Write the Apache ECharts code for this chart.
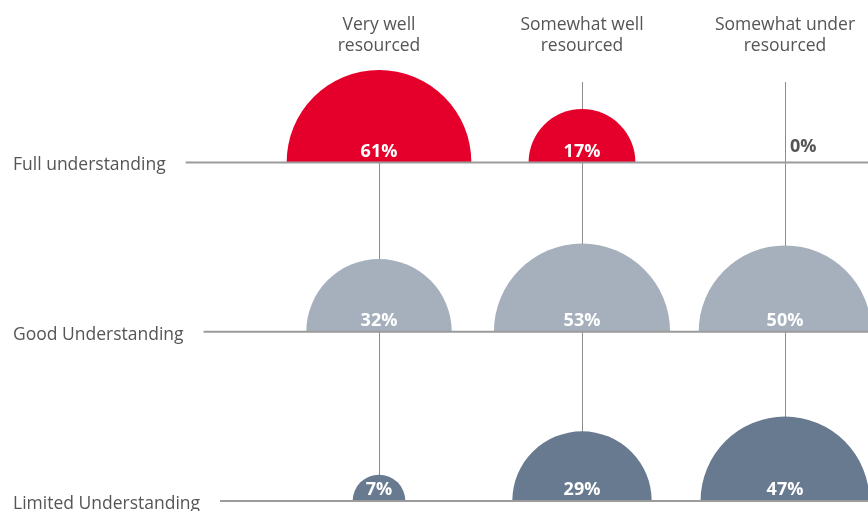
<!DOCTYPE html>
<html>
<head>
<meta charset="utf-8">
<script src="https://cdn.jsdelivr.net/npm/echarts@6/dist/echarts.min.js"></script>
<style>
html,body{margin:0;padding:0;background:#fff;}
#chart{width:868px;height:511px;}
</style>
</head>
<body>
<div id="chart"></div>
<script>
// ---- data ----
const columns = ['Very well\nresourced', 'Somewhat well\nresourced', 'Somewhat under\nresourced'];
const rows = ['Full understanding', 'Good Understanding', 'Limited Understanding'];
const fullValues = [61, 17, 0];
const goodValues = [32, 53, 50];
const limitedValues = [7, 29, 47];

// ---- styles ----
const FONT = '"Open Sans", "Noto Sans", sans-serif';
const rowColors = ['#E4002B', '#A5B0BC', '#687A8F'];
const textGray = '#555555';

function radiusFor(v) {
  if (v <= 0) return 0;
  return Math.max(0, 30.5 * Math.log(v) - 33);
}

const seriesValues = [fullValues, goodValues, limitedValues];
const bubbleData = [];
seriesValues.forEach(function (vals, r) {
  vals.forEach(function (v, c) { bubbleData.push([c, r, v]); });
});

const measureCtx = document.createElement('canvas').getContext('2d');
function textWidth(txt, font) { measureCtx.font = font; return measureCtx.measureText(txt).width; }

const chart = echarts.init(document.getElementById('chart'), null, { renderer: 'canvas' });
const option = {
  backgroundColor: '#ffffff',
  animation: false,
  grid: { left: 379, right: 83, top: 82, bottom: 10 },
  xAxis: {
    type: 'category',
    data: columns,
    position: 'top',
    boundaryGap: false,
    axisLine: { show: false },
    axisTick: { show: false },
    axisLabel: {
      interval: 0,
      margin: 25,
      color: textGray,
      fontFamily: FONT,
      fontSize: 17.5,
      lineHeight: 21,
      align: 'center'
    },
    splitLine: { show: true, lineStyle: { color: '#8c8c8c', width: 1 } }
  },
  yAxis: {
    type: 'value',
    inverse: true,
    min: -0.475,
    max: 2,
    show: false
  },
  series: [
    {
      type: 'custom',
      name: 'bubbles',
      clip: false,
      z: 3,
      data: bubbleData,
      renderItem: function (params, api) {
        const c = api.value(0), r = api.value(1), v = api.value(2);
        const p = api.coord([c, r]);
        const rad = radiusFor(v);
        const children = [];
        if (rad > 0) {
          children.push({
            type: 'sector',
            shape: { cx: p[0], cy: p[1], r0: 0, r: rad, startAngle: Math.PI, endAngle: Math.PI * 2 },
            style: { fill: rowColors[r] }
          });
          children.push({
            type: 'text',
            style: {
              text: v + '%', x: p[0], y: p[1] - 11,
              align: 'center', verticalAlign: 'middle',
              fill: '#ffffff', font: 'bold 18px ' + FONT
            }
          });
        } else {
          children.push({
            type: 'text',
            style: {
              text: v + '%', x: p[0] + 5, y: p[1] - 16,
              align: 'left', verticalAlign: 'middle',
              fill: textGray, font: 'bold 18px ' + FONT
            }
          });
        }
        return { type: 'group', children: children };
      }
    },
    {
      type: 'custom',
      name: 'rows',
      clip: false,
      z: 4,
      data: rows.map(function (_, i) { return [0, i]; }),
      renderItem: function (params, api) {
        const r = api.value(1);
        const y = api.coord([0, r])[1];
        const font = '17.5px ' + FONT;
        const w = textWidth(rows[r], font);
        const x0 = 13 + w + 20;
        return {
          type: 'group',
          children: [
            { type: 'text', style: { text: rows[r], x: 13, y: y + 3, align: 'left', verticalAlign: 'middle', fill: textGray, font: font } },
            { type: 'line', shape: { x1: x0, y1: y, x2: api.getWidth(), y2: y }, style: { stroke: '#9b9b9b', lineWidth: 2 } }
          ]
        };
      }
    }
  ]
};
chart.setOption(option);
</script>
</body>
</html>
